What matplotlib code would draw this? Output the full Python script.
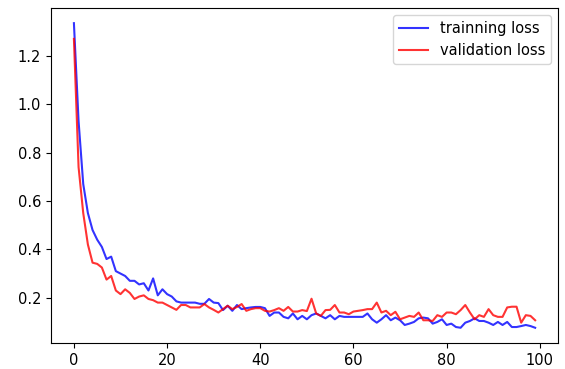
import numpy as np
import matplotlib
matplotlib.use('Agg')
import matplotlib.pyplot as plt

train_loss = [
    1.335, 0.93, 0.67, 0.55, 0.48, 0.44, 0.41, 0.36, 0.37, 0.31,
    0.30, 0.29, 0.27, 0.27, 0.255, 0.26, 0.23, 0.28, 0.21, 0.235,
    0.215, 0.205, 0.185, 0.18, 0.18, 0.18, 0.18, 0.175, 0.175, 0.195,
    0.18, 0.178, 0.149, 0.167, 0.146, 0.17, 0.153, 0.157, 0.16, 0.162,
    0.162, 0.157, 0.125, 0.139, 0.139, 0.121, 0.115, 0.135, 0.111, 0.125,
    0.111, 0.128, 0.135, 0.125, 0.115, 0.128, 0.111, 0.125, 0.121, 0.121,
    0.121, 0.121, 0.121, 0.135, 0.111, 0.097, 0.111, 0.128, 0.107, 0.118,
    0.107, 0.0875, 0.093, 0.10, 0.115, 0.118, 0.115, 0.093, 0.10, 0.111,
    0.0875, 0.093, 0.079, 0.076, 0.097, 0.104, 0.115, 0.104, 0.104, 0.097,
    0.0875, 0.10, 0.0875, 0.10, 0.079, 0.079, 0.083, 0.0875, 0.083, 0.076,
]

val_loss = [
    1.27, 0.74, 0.55, 0.42, 0.345, 0.34, 0.325, 0.275, 0.29, 0.23,
    0.215, 0.235, 0.22, 0.195, 0.205, 0.21, 0.195, 0.19, 0.18, 0.18,
    0.17, 0.16, 0.15, 0.17, 0.17, 0.16, 0.16, 0.16, 0.174, 0.16,
    0.15, 0.139, 0.153, 0.167, 0.153, 0.162, 0.174, 0.146, 0.153, 0.157,
    0.157, 0.146, 0.143, 0.149, 0.157, 0.146, 0.162, 0.143, 0.143, 0.149,
    0.145, 0.196, 0.135, 0.125, 0.149, 0.15, 0.17, 0.139, 0.139, 0.132,
    0.143, 0.146, 0.149, 0.153, 0.153, 0.18, 0.139, 0.146, 0.128, 0.142,
    0.111, 0.118, 0.125, 0.121, 0.139, 0.107, 0.107, 0.104, 0.128, 0.121,
    0.139, 0.139, 0.132, 0.149, 0.17, 0.139, 0.111, 0.128, 0.121, 0.153,
    0.128, 0.121, 0.121, 0.16, 0.163, 0.163, 0.097, 0.128, 0.125, 0.107,
]

epochs = np.arange(len(train_loss))

plt.rcParams['font.size'] = 10.5

fig = plt.figure(figsize=(5.65, 3.69), dpi=100)
ax = fig.add_axes([0.09, 0.0705, 0.898, 0.908])
ax.plot(epochs, train_loss, color='b', alpha=0.8, label='trainning loss')
ax.plot(epochs, val_loss, color='r', alpha=0.8, label='validation loss')
ax.legend(loc='upper right')

fig.savefig('out.png', dpi=100)
